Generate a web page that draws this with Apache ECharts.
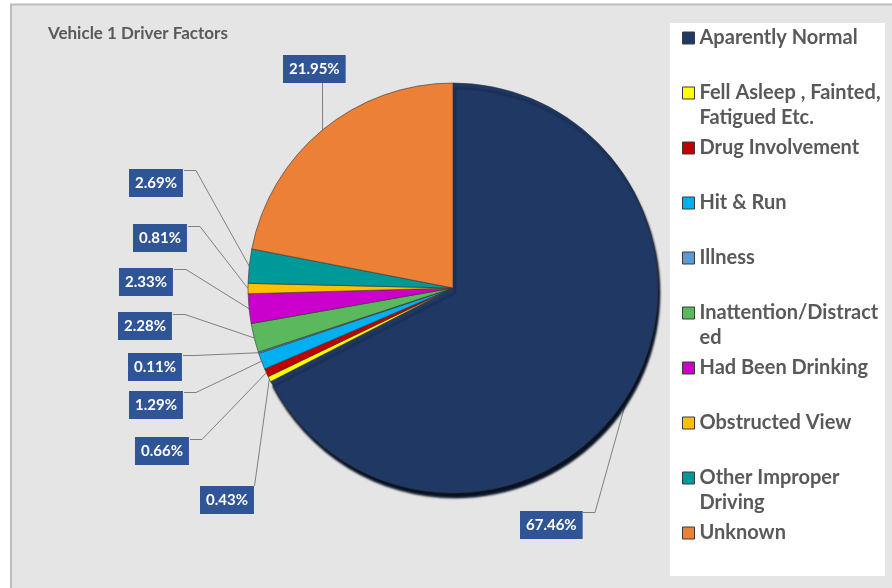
<!DOCTYPE html>
<html><head><meta charset="utf-8">
<script src="https://cdn.jsdelivr.net/npm/echarts@6/dist/echarts.min.js"></script>
<style>html,body{margin:0;padding:0;background:#fff}#c{width:892px;height:588px}</style>
</head><body><div id="c"></div>
<script>
// ---- data ----
const categories = ['Aparently Normal', 'Fell Asleep , Fainted, Fatigued Etc.', 'Drug Involvement', 'Hit & Run', 'Illness', 'Inattention/Distracted', 'Had Been Drinking', 'Obstructed View', 'Other Improper Driving', 'Unknown'];
const legendLabels = ['Aparently Normal', 'Fell Asleep , Fainted,\nFatigued Etc.', 'Drug Involvement', 'Hit & Run', 'Illness', 'Inattention/Distract\ned', 'Had Been Drinking', 'Obstructed View', 'Other Improper\nDriving', 'Unknown'];
const percentages = [67.46, 0.43, 0.66, 1.29, 0.11, 2.28, 2.33, 0.81, 2.69, 21.95];
const colors = ['#203864', '#ffff00', '#c00000', '#00b0f0', '#5b9bd5', '#5cb85c', '#cc00cc', '#ffc000', '#009999', '#eb8036'];

// ---- label layout (box top-left and leader tail points) ----
const labelLayoutCfg = [
  { box: [520, 511], tail: [[595, 512.5], [583, 512.5]] },
  { box: [200, 486], tail: [[254.5, 486]] },
  { box: [135, 437], tail: [[202, 439.5], [190, 439.5]] },
  { box: [129, 391], tail: [[196, 392.5], [184, 392.5]] },
  { box: [128, 353], tail: [[195, 355.5], [183, 355.5]] },
  { box: [118, 312], tail: [[185, 314.5], [173, 314.5]] },
  { box: [119, 268], tail: [[186, 269.5], [174, 269.5]] },
  { box: [133, 224], tail: [[200, 226.5], [188, 226.5]] },
  { box: [129, 169], tail: [[196, 170.5], [184, 170.5]] },
  { box: [283, 55], tail: [[322.5, 83]] }
];

const FONT = 'Lato';
const chart = echarts.init(document.getElementById('c'), null, { renderer: 'canvas' });

const seriesData = categories.map((name, i) => {
  const d = { name: name, value: percentages[i], itemStyle: { color: colors[i] } };
  if (i === 0) {
    d.itemStyle.shadowColor = 'rgba(8,18,38,1)';
    d.itemStyle.shadowOffsetX = 2;
    d.itemStyle.shadowOffsetY = 5;
    d.itemStyle.shadowBlur = 2;
  }
  return d;
});

chart.setOption({
  backgroundColor: '#ffffff',
  animation: false,
  graphic: [
    { type: 'rect', z: -10, shape: { x: 11, y: 4.5, width: 890, height: 590 },
      style: { fill: '#e5e5e5', stroke: '#bdbdbd', lineWidth: 2 } },
    { type: 'rect', z: -9, shape: { x: 670, y: 23, width: 215, height: 553 },
      style: { fill: '#ffffff' } }
  ],
  title: {
    text: 'Vehicle 1 Driver Factors',
    left: 48, top: 25, padding: 0,
    textStyle: { fontFamily: FONT, fontSize: 17, fontWeight: 'bold', color: '#595959' }
  },
  legend: {
    orient: 'vertical',
    left: 682, top: 0.5, padding: 0,
    itemWidth: 12, itemHeight: 12, itemGap: -20,
    icon: 'rect',
    selectedMode: false,
    itemStyle: { borderColor: '#3a3a3a', borderWidth: 1 },
    data: categories,
    formatter: function (name) {
      const t = legendLabels[categories.indexOf(name)];
      return '\n' + (t.indexOf('\n') >= 0 ? t : t + '\n ');
    },
    textStyle: { fontFamily: FONT, fontSize: 20, fontWeight: 'bold', color: '#595959', lineHeight: 25 }
  },
  series: [{
    type: 'pie',
    center: [453, 288],
    radius: 205,
    startAngle: 90,
    clockwise: true,
    avoidLabelOverlap: false,
    emphasis: { disabled: true },
    itemStyle: { borderColor: 'rgba(50,50,50,0.75)', borderWidth: 0.8 },
    label: {
      show: true, position: 'outside',
      formatter: p => p.value.toFixed(2) + '%',
      fontFamily: FONT, fontSize: 15, fontWeight: 'bold', color: '#ffffff',
      backgroundColor: '#2f5597', padding: [5, 6, 5, 6], lineHeight: 18
    },
    labelLine: { show: true, length: 10, length2: 10, lineStyle: { color: '#808080', width: 1 } },
    labelLayout: function (params) {
      const cfg = labelLayoutCfg[params.dataIndex];
      const pts = params.labelLinePoints;
      const res = { x: cfg.box[0], y: cfg.box[1], align: 'left', verticalAlign: 'top' };
      if (pts && pts.length) {
        res.labelLinePoints = [[pts[0][0], pts[0][1]]].concat(cfg.tail);
      }
      return res;
    },
    data: seriesData
  }]
});
</script></body></html>
